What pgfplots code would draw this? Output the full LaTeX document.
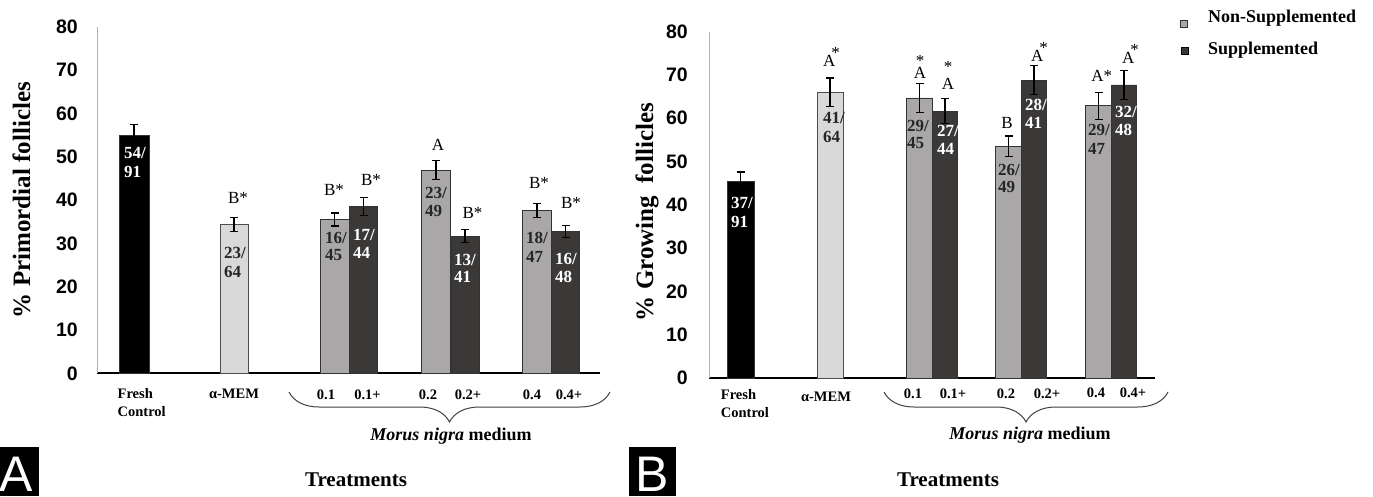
\documentclass[border=0pt]{standalone}
\usepackage{fontspec}
\setmainfont{Liberation Serif}
\newfontfamily\arial{Liberation Sans}
\usepackage{pgfplots}
\pgfplotsset{compat=1.18}
\usepackage{pgfplotstable}
\usetikzlibrary{decorations.pathreplacing}

\definecolor{cFresh}{HTML}{000000}
\definecolor{cMem}{HTML}{D9D9D9}
\definecolor{cNon}{HTML}{A9A7A7}
\definecolor{cSup}{HTML}{3B3838}
\definecolor{cEdge}{HTML}{333333}
\definecolor{cTxt}{HTML}{262626}

% Panel A: x position (px), mean %, error
\pgfplotstableread{
x y e
134 55.0 2.5
}\Afresh
\pgfplotstableread{
x y e
234 34.4 1.6
}\Amem
\pgfplotstableread{
x y e
334.5 35.5 1.5
436 46.9 2.2
537 37.6 1.6
}\Anon
\pgfplotstableread{
x y e
363.5 38.5 2.0
465 31.6 1.5
565.5 32.7 1.4
}\Asup
% Panel B
\pgfplotstableread{
x y e
740.5 45.5 2.1
}\Bfresh
\pgfplotstableread{
x y e
830 66.0 3.3
}\Bmem
\pgfplotstableread{
x y e
919.5 64.7 3.3
1008.5 53.5 2.4
1098.5 62.9 3.1
}\Bnon
\pgfplotstableread{
x y e
945 61.6 2.9
1034 68.8 3.4
1124 67.7 3.3
}\Bsup

\pgfplotsset{panel/.style={
  scale only axis, ymin=0, ymax=80,
  ytick={0,10,...,80}, yticklabels={0,10,20,30,40,50,60,70,80},
  axis lines=left, axis line style={-},
  x axis line style={black, line width=2pt},
  y axis line style={draw=black!30, line width=1pt},
  xtick=\empty, major tick length=0pt,
  yticklabel style={font=\arial\bfseries\fontsize{19.5}{20}\selectfont, inner sep=0pt, anchor=east},
  clip=false,
}}
\pgfplotsset{bars/.style={ybar, bar shift=0pt, draw=cEdge, line width=0.8pt,
  error bars/y dir=both, error bars/y explicit,
  error bars/error mark=-,
  error bars/error bar style={black, line width=1.1pt},
  error bars/error mark options={rotate=90, black, mark size=4pt, line width=1.1pt}}}

\newcommand\frfont{\fontsize{17}{18}\selectfont\bfseries}
\newcommand\fr[6]{%
  \node[anchor=west,inner sep=0pt,text=#6,font=\frfont] at (#1,#2) {#4};
  \node[anchor=west,inner sep=0pt,text=#6,font=\frfont] at (#1,#3) {#5};}
\newcommand\sigfont{\fontsize{17}{18}\selectfont}
\newcommand\sg[3]{\node[inner sep=0pt,font=\sigfont] at (#1,#2) {#3};}
% A with a raised star at its upper right (base west at A's left/baseline)
\newcommand\Astar[2]{\node[anchor=base west,inner sep=0pt,font=\sigfont] at (#1,#2) {A\kern-4pt\raisebox{8pt}{*}};}
% A with a star centred above it (#3 = raise)
\newcommand\Atop[3]{\node[anchor=base,inner sep=0pt,font=\sigfont] at (#1,#2) {A\llap{\makebox[12.3pt][c]{\raisebox{#3}{*}}}};}
\newcommand\labfont{\fontsize{14.5}{16}\selectfont\bfseries}
\newcommand\lb[3]{\node[inner sep=0pt,font=\labfont] at (#1,#2) {#3};}

\begin{document}
\begin{tikzpicture}
\useasboundingbox (0,0) rectangle (1373pt,496pt);

% ---------- Panel A ----------
\begin{axis}[panel, at={(97pt,122.7pt)}, anchor=south west,
  width=503pt, height=346.6pt, xmin=97, xmax=600,
  yticklabel style={xshift=-19pt}]
\addplot[bars, bar width=30, fill=cFresh] table[x=x,y=y,y error=e]{\Afresh};
\addplot[bars, bar width=28, fill=cMem, draw=black!70] table[x=x,y=y,y error=e]{\Amem};
\addplot[bars, bar width=29, fill=cNon] table[x=x,y=y,y error=e]{\Anon};
\addplot[bars, bar width=28, fill=cSup] table[x=x,y=y,y error=e]{\Asup};
\end{axis}

% ---------- Panel B ----------
\begin{axis}[panel, at={(709pt,118pt)}, anchor=south west,
  width=446pt, height=346.3pt, xmin=709, xmax=1155,
  yticklabel style={xshift=-21pt}]
\addplot[bars, bar width=27, fill=cFresh] table[x=x,y=y,y error=e]{\Bfresh};
\addplot[bars, bar width=26, fill=cMem, draw=black!70] table[x=x,y=y,y error=e]{\Bmem};
\addplot[bars, bar width=25.5, fill=cNon] table[x=x,y=y,y error=e]{\Bnon};
\addplot[bars, bar width=25.5, fill=cSup] table[x=x,y=y,y error=e]{\Bsup};
\end{axis}

% ---------- annotations in pixel coordinates ----------
\begin{scope}[x=1pt, y=-1pt, yshift=496pt]
% y titles
\node[rotate=90, font=\fontsize{25}{26}\selectfont\bfseries, inner sep=0pt] at (21.5,200) {\% Primordial follicles};
\node[rotate=90, font=\fontsize{25}{26}\selectfont\bfseries, inner sep=0pt] at (647,212) {\% Growing\ \ follicles};

% fractions panel A
\fr{124}{153}{172}{54/}{91}{white}
\fr{224}{253}{272}{23/}{64}{cTxt}
\fr{325}{238}{255}{16/}{45}{cTxt}
\fr{353}{235}{253}{17/}{44}{white}
\fr{425}{193}{211}{23/}{49}{cTxt}
\fr{454}{260}{277}{13/}{41}{white}
\fr{526}{238}{257}{18/}{47}{cTxt}
\fr{555}{259}{277}{16/}{48}{white}
% fractions panel B
\fr{731}{203}{222}{37/}{91}{white}
\fr{823}{118}{137}{41/}{64}{cTxt}
\fr{907}{126}{143}{29/}{45}{cTxt}
\fr{937}{131}{149}{27/}{44}{white}
\fr{998}{170}{187}{26/}{49}{cTxt}
\fr{1025}{105}{123}{28/}{41}{white}
\fr{1088}{130}{149}{29/}{47}{cTxt}
\fr{1115}{112}{130}{32/}{48}{white}

% significance letters panel A
\sg{238}{198}{B*}
\sg{334}{190}{B*}
\sg{371}{180}{B*}
\sg{438}{145}{A}
\sg{472.5}{213}{B*}
\sg{539}{183}{B*}
\sg{571}{203}{B*}
% significance letters panel B
\Astar{822.9}{66.6}
\Atop{920}{78.6}{12.25pt}
\Atop{948}{89.6}{17.25pt}
\sg{1007}{123}{B}
\Astar{1030.9}{61.6}
\sg{1101.7}{76}{A*}
\Astar{1121.9}{63.6}

% category labels panel A
\node[anchor=west, inner sep=0pt, font=\labfont] at (117.5,393.6) {Fresh};
\node[anchor=west, inner sep=0pt, font=\labfont] at (117.5,411.5) {Control};
\lb{234}{393.6}{α-MEM}
\lb{326}{395}{0.1}\lb{367.5}{395}{0.1+}
\lb{428}{395}{0.2}\lb{468}{395}{0.2+}
\lb{532}{395}{0.4}\lb{569}{395}{0.4+}
% category labels panel B
\node[anchor=west, inner sep=0pt, font=\labfont] at (720.7,395) {Fresh};
\node[anchor=west, inner sep=0pt, font=\labfont] at (720.7,413) {Control};
\lb{826}{396.7}{α-MEM}
\lb{913}{394}{0.1}\lb{953}{394}{0.1+}
\lb{1006}{394}{0.2}\lb{1047}{394}{0.2+}
\lb{1096}{392.7}{0.4}\lb{1133}{392.7}{0.4+}

% braces
\draw[black!75, line width=1pt, decorate, decoration={brace, mirror, amplitude=30pt}] (289,392) -- (610,392);
\draw[black!75, line width=1pt, decorate, decoration={brace, mirror, amplitude=30pt}] (884,392) -- (1168,392);
\node[inner sep=0pt, font=\fontsize{18}{20}\selectfont\bfseries] at (451,436) {\textit{Morus nigra} medium};
\node[inner sep=0pt, font=\fontsize{18}{20}\selectfont\bfseries] at (1030,435) {\textit{Morus nigra} medium};

% Treatments
\node[inner sep=0pt, font=\fontsize{21}{22}\selectfont\bfseries] at (356,480) {Treatments};
\node[inner sep=0pt, font=\fontsize{21}{22}\selectfont\bfseries] at (948,480) {Treatments};

% panel letters
\fill[black] (0,447) rectangle (39,496);
\node[anchor=base, inner sep=0pt, text=white, font=\arial\fontsize{50}{50}\selectfont] at (16.5,491) {A};
\fill[black] (629,447) rectangle (676,496);
\node[anchor=base, inner sep=0pt, text=white, font=\arial\fontsize{50}{50}\selectfont] at (652.5,491) {B};

% legend
\filldraw[fill=cNon, draw=cEdge, line width=0.6pt] (1180,20) rectangle (1187,27);
\filldraw[fill=cSup, draw=black, line width=0.6pt] (1181,47) rectangle (1188,54);
\node[anchor=west, inner sep=0pt, font=\fontsize{18}{20}\selectfont\bfseries] at (1208,18) {Non-Supplemented};
\node[anchor=west, inner sep=0pt, font=\fontsize{18}{20}\selectfont\bfseries] at (1208,50) {Supplemented};
\end{scope}
\end{tikzpicture}
\end{document}
